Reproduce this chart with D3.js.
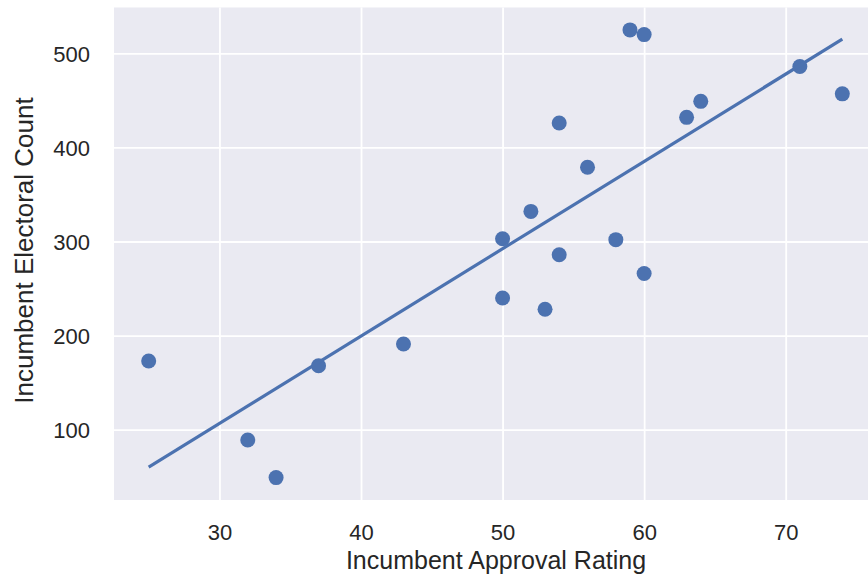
<!DOCTYPE html>
<html>
<head>
<meta charset="utf-8">
<script src="https://cdn.jsdelivr.net/npm/d3@7"></script>
<style>
  html, body { margin: 0; padding: 0; background: #ffffff; }
  svg { display: block; }
  text { font-family: Arial, "Liberation Sans", sans-serif; fill: #262626; }
</style>
</head>
<body>
<svg id="chart" width="868" height="584"></svg>
<script>
// Data
const approval = [25, 32, 34, 37, 43, 50, 50, 52, 53, 54, 54, 56, 58, 59, 60, 60, 63, 64, 71, 74];
const electoral = [173, 89, 49, 168, 191, 303, 240, 332, 228, 426, 286, 379, 302, 525, 520, 266, 432, 449, 486, 457];
const xTicks = [30, 40, 50, 60, 70];
const yTicks = [100, 200, 300, 400, 500];
const xLabel = "Incumbent Approval Rating";
const yLabel = "Incumbent Electoral Count";

const svg = d3.select("#chart");
const plot = { left: 114, top: 7.5, right: 877, bottom: 500 };

// matplotlib-style 5% margins
const xMin = d3.min(approval), xMax = d3.max(approval);
const yMin = d3.min(electoral), yMax = d3.max(electoral);
const xPad = (xMax - xMin) * 0.05, yPad = (yMax - yMin) * 0.05;

const x = d3.scaleLinear().domain([xMin - xPad, xMax + xPad]).range([plot.left, plot.right]);
const y = d3.scaleLinear().domain([yMin - yPad, yMax + yPad]).range([plot.bottom, plot.top]);

// background
svg.append("rect")
  .attr("x", plot.left).attr("y", plot.top)
  .attr("width", plot.right - plot.left).attr("height", plot.bottom - plot.top)
  .attr("fill", "#EAEAF2");

// grid via axes
const gx = svg.append("g")
  .attr("transform", `translate(0,${plot.bottom})`)
  .call(d3.axisBottom(x).tickValues(xTicks).tickSize(-(plot.bottom - plot.top)).tickFormat(d3.format("d")));
gx.select(".domain").remove();
gx.selectAll(".tick line").attr("stroke", "#ffffff").attr("stroke-width", 1.8);
gx.selectAll(".tick text")
  .attr("y", 0).attr("dy", null)
  .attr("transform", "translate(0,40)")
  .style("font-size", "22px").attr("fill", "#262626")
  .style("font-family", "Arial, 'Liberation Sans', sans-serif");

const gy = svg.append("g")
  .attr("transform", `translate(${plot.left},0)`)
  .call(d3.axisLeft(y).tickValues(yTicks).tickSize(-(plot.right - plot.left)).tickFormat(d3.format("d")));
gy.select(".domain").remove();
gy.selectAll(".tick line").attr("stroke", "#ffffff").attr("stroke-width", 1.8);
gy.selectAll(".tick text")
  .attr("x", -24).attr("dy", "0.35em")
  .style("font-size", "22px").attr("fill", "#262626")
  .style("font-family", "Arial, 'Liberation Sans', sans-serif");

// regression line (least squares fit of the data)
const mx = d3.mean(approval), my = d3.mean(electoral);
let sxy = 0, sxx = 0;
approval.forEach((a, i) => { sxy += (a - mx) * (electoral[i] - my); sxx += (a - mx) * (a - mx); });
const slope = sxy / sxx, intercept = my - slope * mx;
const fit = [xMin, xMax].map(a => [a, intercept + slope * a]);

// points
svg.append("g").selectAll("circle")
  .data(approval.map((a, i) => [a, electoral[i]]))
  .join("circle")
  .attr("cx", d => x(d[0]))
  .attr("cy", d => y(d[1]))
  .attr("r", 7.5)
  .attr("fill", "#4C72B0");

svg.append("path")
  .datum(fit)
  .attr("d", d3.line().x(d => x(d[0])).y(d => y(d[1])))
  .attr("stroke", "#4C72B0")
  .attr("stroke-width", 3.2)
  .attr("fill", "none");

// axis titles
svg.append("text")
  .attr("x", (plot.left + 868) / 2 + 5)
  .attr("y", 569)
  .attr("text-anchor", "middle")
  .style("font-size", "25px")
  .text(xLabel);

svg.append("text")
  .attr("transform", `translate(33,${(86 + 415) / 2}) rotate(-90)`)
  .attr("text-anchor", "middle")
  .style("font-size", "26px")
  .text(yLabel);
</script>
</body>
</html>
